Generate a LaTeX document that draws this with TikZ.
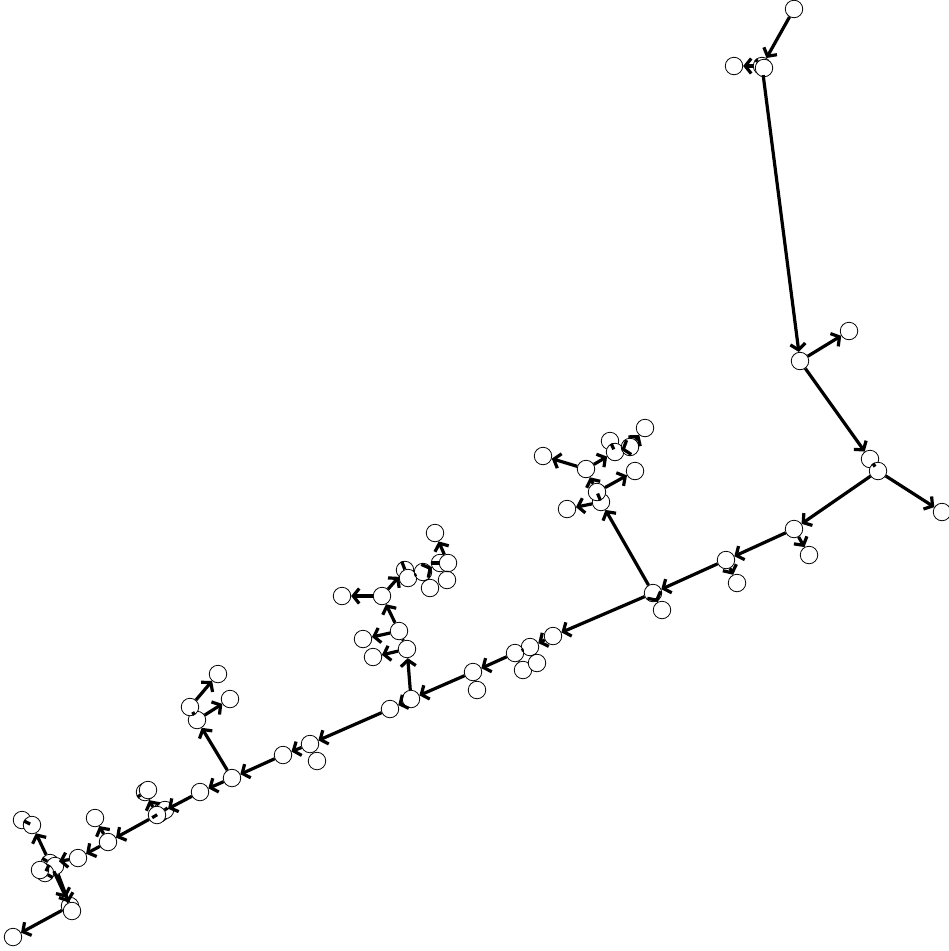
\documentclass[tikz,border=0pt]{standalone}
\usetikzlibrary{arrows.meta}
\tikzset{
  vtx/.style={circle,draw=black,fill=white,line width=0.8pt,minimum size=17.5pt,inner sep=0pt},
  edg/.style={line width=3.2pt,black,-{Straight Barb[length=6pt,width=15pt]}},
  sedg/.style={line width=3.2pt,black},
}
\begin{document}
\begin{tikzpicture}[x=1pt,y=-1pt]
\useasboundingbox (0,0) rectangle (949,951);
% nodes
\foreach \n/\x/\y in {
a1/794/9, a2/762/66, a2b/764/68, a3/734/66, a4/800/361, a5/849/331,
a6/870/459, a7/878/471, a8/942/512, a9/794/529, a10/809/555, a11/726/560,
a12/737/583, a13/653/593, a14/662/610, a15/601/502, a16/597/492, a17/567/509,
a18/635/471, a19/586/469, a20/543/456, a21/610/441, a22/615/452, a23/630/447, a24/645/428,
b1/553/636, b2/530/647, b3/515/653, b4/523/670, b5/537/663, b6/473/672, b7/477/690,
b8/411/699, b9/390/709,
c1/407/649, c2/373/657, c3/399/631, c4/363/639, c5/382/596, c6/342/596,
c7/405/570, c8/408/578, c9/423/572, c10/430/588, c11/440/563, c12/448/563, c13/447/580, c14/435/533,
d1/310/744, d2/317/761, d3/283/755, d4/232/778, d5/200/792, d6/197/720, d7/190/707, d8/218/674, d9/230/699,
e1/160/813, e2/165/810, e3/157/815, e4/145/792, e5/148/790, e6/95/818, e7/108/842,
f1/78/858, f2/22/820, f3/32/825, f4/50/863, f5/55/866, f6/45/873, f7/40/870,
f8/70/906, f9/72/911, f10/13/937}
  \node[vtx] (\n) at (\x,\y) {};
\foreach \s/\t in {a1/a2, a2/a3, a2/a4, a4/a5, a4/a6, a7/a8, a7/a9, a9/a10, a9/a11,
  a11/a12, a11/a13, a13/a14, a13/a15, a15/a17, a16/a18, a16/a19, a19/a20, a19/a22,
  a22/a23, a23/a24, a13/b1, b1/b2, b3/b6, b6/b8, b8/b9, b8/c1, c1/c2, c3/c4, c3/c5,
  c5/c6, c5/c7, c9/c11, c12/c14, b9/d1, d1/d3, d3/d4, d4/d5, d4/d6, d6/d9, d7/d8,
  d5/e1, e3/e4, e3/e7, e7/e6, e7/f1, f1/f4, f4/f3, f4/f8, f8/f10, f5/f9}
  \draw[edg] (\s) -- (\t);
\foreach \s/\t in {a2/a2b, a6/a7, a15/a16, a22/a21, b2/b3, b2/b5, b3/b4, b6/b7,
  c1/c3, c7/c8, c8/c9, c9/c10, c11/c12, c12/c13, d1/d2, d6/d7, e1/e2, e1/e3, e4/e5,
  f4/f5, f4/f6, f6/f7, f3/f2, f8/f9}
  \draw[sedg] (\s) -- (\t);
\end{tikzpicture}
\end{document}
